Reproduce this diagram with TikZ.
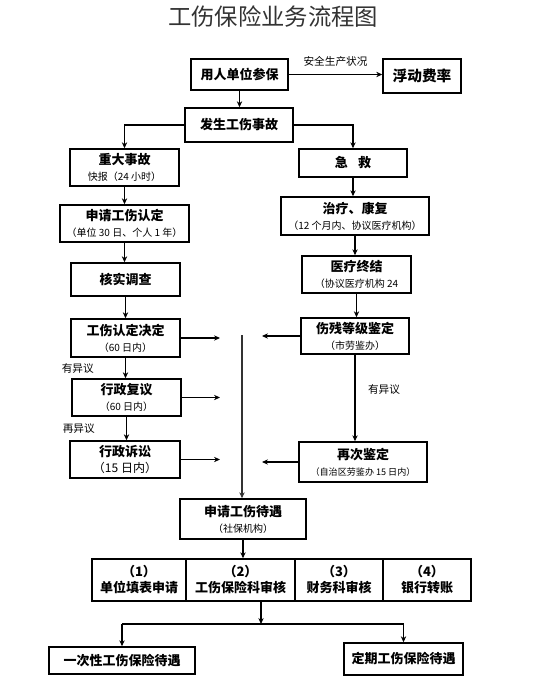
\documentclass[tikz,border=0pt]{standalone}
\usepackage{fontspec}
\setmainfont{Noto Sans CJK SC}
\usetikzlibrary{arrows.meta}

\tikzset{
  pbox/.style 2 args={draw, line width=1.1pt, align=center, inner sep=0pt,
    minimum width={#1*0.75pt}, minimum height={#2*0.75pt},
    font=\fontsize{9.75}{12}\selectfont\bfseries},
  flow/.style={line width=0.9pt, -{Stealth[length=4.5pt,width=4pt]}},
  note/.style={font=\fontsize{8}{10}\selectfont},
}
\newcommand{\subline}[1]{{\mdseries\fontsize{7.5}{9}\selectfont #1}}

\begin{document}
\begin{tikzpicture}[x=0.75pt,y=-0.75pt]
    \useasboundingbox (0,0) rectangle (540,684);

    % Title
    \node[text=black!80, font=\fontsize{17.5}{20}\selectfont] (title) at (273,17) {工伤保险业务流程图};

    % Top
    \node[pbox={97}{31}] (canbao) at (239.5,74.5) {用人单位参保};
    \node[pbox={78}{34}, font=\fontsize{11}{13}\selectfont\bfseries] (fudong) at (422,76) {浮动费率};
    \node[pbox={108}{34}] (shigu) at (239,125) {发生工伤事故};

    % Left column
    \node[pbox={109}{37}] (zhongda) at (124.5,167.5) {重大事故\\\subline{快报（24 小时）}};
    \node[pbox={129}{37}] (rending) at (124.5,223.5) {申请工伤认定\\\subline{（单位 30 日、个人 1 年）}};
    \node[pbox={109}{33}] (heshi) at (125.5,279.5) {核实调查};
    \node[pbox={109}{38}] (jueding) at (125.5,338) {工伤认定决定\\\subline{（60 日内）}};
    \node[pbox={109}{37}] (fuyi) at (126.5,397.5) {行政复议\\\subline{（60 日内）}};
    \node[pbox={110}{37}] (susong) at (125,459.5) {行政诉讼\\{\mdseries\fontsize{9}{11}\selectfont（15 日内）}};

    % Right column
    \node[pbox={108}{28}] (jijiu) at (353,163) {急\hspace{0.8em}救};
    \node[pbox={148}{38}] (zhiliao) at (355,216) {治疗、康复\\\subline{（12 个月内、协议医疗机构）}};
    \node[pbox={109}{37}] (zhongjie) at (356.5,274.5) {医疗终结\\\subline{（协议医疗机构 24}};
    \node[pbox={108}{36}] (jianding) at (355,336) {伤残等级鉴定\\\subline{（市劳鉴办）}};
    \node[pbox={128}{40}] (zaici) at (363,462) {再次鉴定\\{\mdseries\fontsize{6.8}{8}\selectfont（自治区劳鉴办 15 日内）}};

    % Bottom
    \node[pbox={126}{40}] (daiyu) at (243,519) {申请工伤待遇\\\subline{（社保机构）}};
    \foreach \n/\cx/\w/\num/\t in {r1/139/94/1/单位填表申请, r2/240.5/109/2/工伤保险科审核,
                                   r3/339/88/3/财务科审核, r4/427/88/4/银行转账} {
        \node[pbox={\w}{42}] (\n) at (\cx,580) {（\num）\\\t};
    }
    \node[pbox={146}{27}] (yici) at (122,660.5) {一次性工伤保险待遇};
    \node[pbox={119}{32}] (dingqi) at (403.5,659) {定期工伤保险待遇};

    \coordinate (lineTop) at (242,335);
    \coordinate (leftEnd) at (220,0);
    \coordinate (rightEnd) at (262,0);
    \coordinate (fork) at (261,624);

    % Top arrows
    \draw[flow] (canbao.east) -- node[note, above=2pt] {安全生产状况} (canbao.east -| fudong.west);
    \draw[flow] (canbao.south) -- (canbao.south |- shigu.north);
    \draw[flow] (shigu.west) -| (zhongda.north);
    \draw[flow] (shigu.east) -| (jijiu.north);

    % Left arrows
    \foreach \a/\b in {zhongda/rending, rending/heshi, heshi/jueding} {
        \draw[flow] (\a.south) -- (\a.south |- \b.north);
    }
    \draw[flow] (jueding.south) -- node[note, left=20pt] {有异议} (jueding.south |- fuyi.north);
    \draw[flow] (fuyi.south) -- node[note, left=20pt] {再异议} (fuyi.south |- susong.north);
    \foreach \n in {jueding,fuyi,susong} {
        \draw[flow] (\n.east) -- (\n.east -| leftEnd);
    }

    % Right arrows
    \foreach \a/\b in {jijiu/zhiliao, zhiliao/zhongjie, zhongjie/jianding} {
        \draw[flow] (\a.south) -- (\a.south |- \b.north);
    }
    \draw[flow] (jianding.south) -- node[note, right=6pt, pos=0.4] {有异议} (jianding.south |- zaici.north);
    \foreach \n in {jianding,zaici} {
        \draw[flow] (\n.west) -- (\n.west -| rightEnd);
    }

    % Middle line
    \draw[flow, line width=1.1pt, black!80] (lineTop) -- (lineTop |- daiyu.north);
    \draw[flow] (daiyu.south) -- (daiyu.south |- r2.north);
    \draw[flow] (r2.south -| fork) -- (fork);
    \draw[line width=1.2pt] (fork -| yici.north) -- (fork -| dingqi.north);
    \draw[flow] (fork -| yici.north) -- (yici.north);
    \draw[flow] (fork -| dingqi.north) -- (dingqi.north);
\end{tikzpicture}
\end{document}
